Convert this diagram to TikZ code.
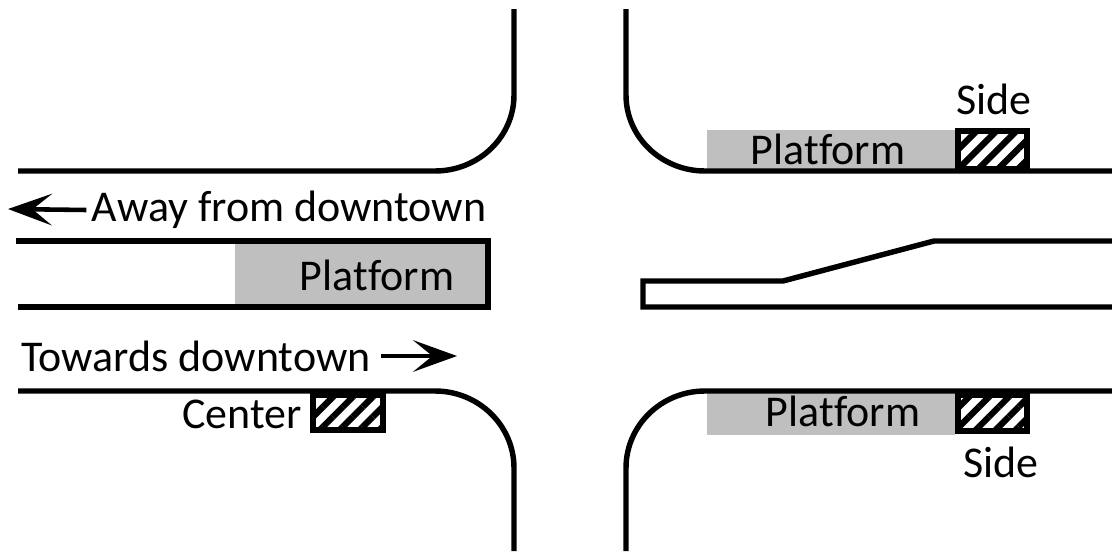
\documentclass[tikz,border=0pt]{standalone}
\usepackage{fontspec}
\setmainfont{Carlito}[Ligatures=CommonOff]
\usetikzlibrary{arrows.meta, patterns.meta}
\definecolor{platgray}{RGB}{191,191,191}
\tikzset{
	curb/.style={line width=3.1pt, line join=miter},
	platform/.style={fill=platgray, draw=none},
	shelter/.style={draw, line width=3.6pt, fill=white, postaction={pattern={Lines[angle=45, distance=8pt, line width=3.6pt]}}},
	label/.style={inner sep=0pt, font=\fontsize{25pt}{28pt}\selectfont},
	flow/.style={line width=2.6pt, -{Stealth[length=25pt, width=18pt, inset=11pt]}}
}
\begin{document}
\begin{tikzpicture}[x=0.02cm, y=-0.02cm]
	\useasboundingbox (0,0) rectangle (1112,551);
	% platforms
	\fill[platform] (707,130) rectangle (958,171);
	\fill[platform] (707,391) rectangle (955,435);
	\fill[platform] (235,241) rectangle (488,307);
	% corners
	\draw[curb] (18,171) -- (435,171) arc[start angle=90, end angle=0, x radius=79, y radius=76] -- (514,9);
	\draw[curb] (626,9) -- (626,95) arc[start angle=180, end angle=90, x radius=79, y radius=76] -- (1112,171);
	\draw[curb] (18,391) -- (435,391) arc[start angle=-90, end angle=0, x radius=79, y radius=77] -- (514,551);
	\draw[curb] (626,551) -- (626,468) arc[start angle=180, end angle=270, x radius=79, y radius=77] -- (1112,391);
	% medians
	\draw[curb] (16,241) -- (488,241) -- (488,307) -- (18,307);
	\draw[curb] (1112,241) -- (934,241) -- (783,281) -- (643,281) -- (643,307) -- (1112,307);
	% shelters
	\draw[shelter] (958,131) rectangle (1027,169);
	\draw[shelter] (958,395) rectangle (1027,431);
	\draw[shelter] (313,395) rectangle (383,430);
	% labels
	\node[label] (sideTop) at (994,99) {Side};
	\node[label] (platTop) at (828,149) {Platform};
	\node[label] (away) at (289,210) {Away from downtown};
	\node[label] (platMid) at (377,275) {Platform};
	\node[label] (towards) at (196,356) {Towards downtown};
	\node[label] (center) at (242,414) {Center};
	\node[label] (platBot) at (843,411) {Platform};
	\node[label] (sideBot) at (1001,462) {Side};
	% directions
	\coordinate (awayEnd) at (8,209);
	\coordinate (towardsEnd) at (457,356);
	\draw[flow] (away.west) ++(-5,0) -- (awayEnd);
	\draw[flow] (towards.east) ++(10,0) -- (towardsEnd);
\end{tikzpicture}
\end{document}
